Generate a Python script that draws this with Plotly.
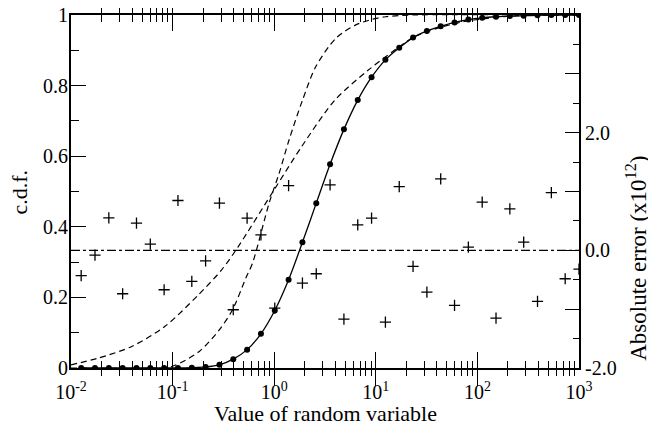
import plotly.graph_objects as go

# Sample points (value of random variable)
x_vals = [0.01259, 0.01722, 0.02357, 0.03224, 0.04411, 0.06034, 0.08254, 0.1129,
          0.1545, 0.2113, 0.2891, 0.3955, 0.5412, 0.7404, 1.013, 1.386, 1.896,
          2.594, 3.548, 4.855, 6.642, 9.085, 12.43, 17.01, 23.26, 31.83, 43.54,
          59.57, 81.50, 111.5, 152.5, 208.7, 285.5, 390.6, 534.4, 731.1, 1000]

# c.d.f. values at sample points (solid line with dots)
cdf_vals = [0, 0, 0, 0, 0, 0, 0, 0, 0.001, 0.003, 0.009, 0.025, 0.052, 0.097,
            0.163, 0.250, 0.356, 0.467, 0.577, 0.676, 0.759, 0.824, 0.873, 0.907,
            0.936, 0.955, 0.968, 0.979, 0.987, 0.992, 0.995, 0.997, 0.998, 0.999,
            1.0, 1.0, 1.0]

# absolute error (x10^12) at sample points (crosses, right axis)
err_vals = [-0.43, -0.08, 0.553, -0.738, 0.463, 0.106, -0.670, 0.847, -0.529,
            -0.178, 0.802, -1.01, 0.548, 0.264, -0.981, 1.101, -0.556, -0.398,
            1.113, -1.168, 0.434, 0.548, -1.219, 1.084, -0.274, -0.709, 1.215,
            -0.937, 0.055, 0.819, -1.151, 0.706, 0.140, -0.869, 0.982, -0.483,
            -0.319]

# wide dashed c.d.f.
wide_x = [0.01, 0.0186, 0.0396, 0.0841, 0.179, 0.304, 0.443, 1.02, 1.86, 3.96,
          8.44, 18.0, 23.1, 40, 70, 120, 250, 1000]
wide_y = [0.009, 0.028, 0.061, 0.118, 0.207, 0.278, 0.344, 0.509, 0.627, 0.759,
          0.844, 0.915, 0.936, 0.962, 0.980, 0.990, 0.998, 1.0]

# steep dashed c.d.f.
steep_x = [0.01, 0.07, 0.1, 0.183, 0.288, 0.389, 0.526, 0.612, 0.891, 1.12, 1.40,
           1.90, 2.57, 4.04, 6.35, 9.27, 12.5, 22.9, 1000]
steep_y = [0, 0, 0.005, 0.047, 0.108, 0.165, 0.255, 0.297, 0.467, 0.552, 0.646,
           0.759, 0.854, 0.934, 0.972, 0.988, 0.995, 1.0, 1.0]

# zero error reference line
zero_x = [0.01, 1000]
zero_y = [0, 0]

x_tickvals = [0.01, 0.1, 1, 10, 100, 1000]
x_ticktext = ["10<sup>-2</sup>", "10<sup>-1</sup>", "10<sup>0</sup>",
              "10<sup>1</sup>", "10<sup>2</sup>", "10<sup>3</sup>"]
x_minor_vals = [m * d for d in (0.01, 0.1, 1, 10, 100) for m in range(2, 10)]
y_tickvals = [0, 0.2, 0.4, 0.6, 0.8, 1]
y_ticktext = ["0", "0.2", "0.4", "0.6", "0.8", "1"]
y_minor_vals = [0.1, 0.3, 0.5, 0.7, 0.9]
y2_tickvals = [-2, -1, 0, 1, 2, 3, 4]
y2_ticktext = ["-2.0", "", "0.0", "", "2.0", "", ""]
y2_minor_vals = [-1.5, -0.5, 0.5, 1.5, 2.5, 3.5]

FONT = "Liberation Serif"


def tick_style(length):
    return dict(ticks="inside", ticklen=length, tickwidth=1.2, tickcolor="black",
                showgrid=False, zeroline=False, automargin=False)


fig = go.Figure()
fig.add_trace(go.Scatter(x=wide_x, y=wide_y, mode="lines",
                         line=dict(color="black", width=1.2, dash="6px,4px",
                                   shape="spline", smoothing=0.8),
                         showlegend=False))
fig.add_trace(go.Scatter(x=steep_x, y=steep_y, mode="lines",
                         line=dict(color="black", width=1.2, dash="6px,4px",
                                   shape="spline", smoothing=0.8),
                         showlegend=False))
fig.add_trace(go.Scatter(x=x_vals, y=cdf_vals, mode="lines+markers",
                         line=dict(color="black", width=1.3, shape="spline",
                                   smoothing=0.8),
                         marker=dict(color="black", size=6),
                         showlegend=False))
fig.add_trace(go.Scatter(x=zero_x, y=zero_y, mode="lines", yaxis="y2",
                         line=dict(color="black", width=1.2,
                                   dash="9px,3px,3px,3px"),
                         showlegend=False))
fig.add_trace(go.Scatter(x=x_vals, y=err_vals, mode="markers", yaxis="y2",
                         marker=dict(symbol="cross-thin", size=8,
                                     line=dict(color="black", width=1.3)),
                         showlegend=False))
# invisible anchors so the minor-tick axes get drawn
fig.add_trace(go.Scatter(x=[1], y=[0.5], xaxis="x2", yaxis="y3", mode="markers",
                         marker=dict(opacity=0), hoverinfo="skip",
                         showlegend=False))
fig.add_trace(go.Scatter(x=[1], y=[0], xaxis="x2", yaxis="y4", mode="markers",
                         marker=dict(opacity=0), hoverinfo="skip",
                         showlegend=False))

fig.update_layout(
    width=648, height=419,
    margin=dict(l=63, r=77, t=7, b=59, autoexpand=False),
    paper_bgcolor="white", plot_bgcolor="white",
    font=dict(family=FONT, color="black", size=20),
    xaxis=dict(type="log", range=[-2, 3], tickvals=x_tickvals,
               ticktext=x_ticktext,
               showline=True, linecolor="black", linewidth=2,
               mirror="allticks", ticklabelstandoff=5,
               ticklabeloverflow="allow", tickfont=dict(size=20),
               **tick_style(16)),
    xaxis2=dict(type="log", range=[-2, 3], overlaying="x", anchor="y",
                tickvals=x_minor_vals, showticklabels=False,
                showline=False, mirror="allticks", **tick_style(7)),
    yaxis=dict(range=[0, 1], tickvals=y_tickvals, ticktext=y_ticktext,
               showline=True, linecolor="black", linewidth=2,
               ticklabelstandoff=-3, ticklabeloverflow="allow",
               tickfont=dict(size=20), **tick_style(15)),
    yaxis3=dict(range=[0, 1], overlaying="y", anchor="x", side="left",
                tickvals=y_minor_vals, showticklabels=False,
                showline=False, **tick_style(8)),
    yaxis2=dict(range=[-2, 4], overlaying="y", side="right", anchor="x",
                tickvals=y2_tickvals, ticktext=y2_ticktext,
                showline=True, linecolor="black", linewidth=2,
                ticklabeloverflow="allow", tickfont=dict(size=20),
                **tick_style(14)),
    yaxis4=dict(range=[-2, 4], overlaying="y", side="right", anchor="x",
                tickvals=y2_minor_vals, showticklabels=False,
                showline=False, **tick_style(6)),
    annotations=[
        dict(text="Value of random variable", xref="paper", yref="paper",
             x=0.5, y=-0.13, xanchor="center", yanchor="middle",
             showarrow=False, font=dict(size=22)),
        dict(text="c.d.f.", xref="paper", yref="paper", textangle=-90,
             x=-0.1004, y=0.5, xanchor="center", yanchor="middle",
             showarrow=False, font=dict(size=22)),
        dict(text="Absolute error (x10<sup>12</sup>)", xref="paper",
             yref="paper", textangle=-90, x=1.114, y=0.312,
             xanchor="center", yanchor="middle", showarrow=False,
             font=dict(size=23)),
    ],
)

fig.write_html("out.html")
